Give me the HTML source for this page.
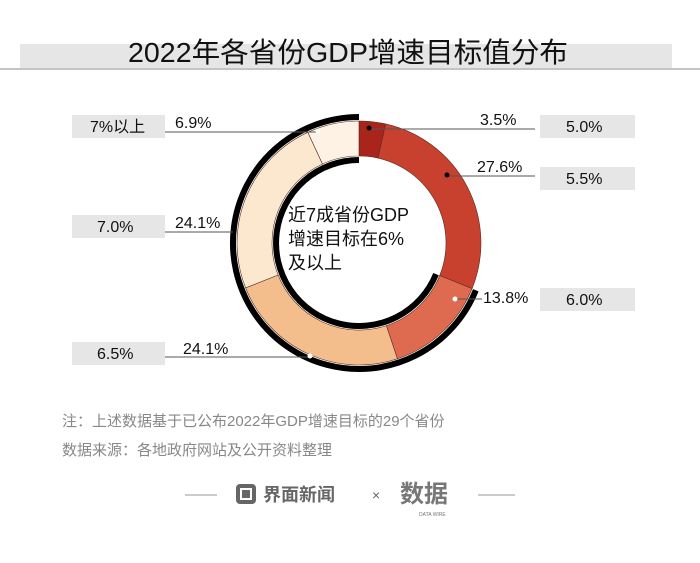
<!DOCTYPE html>
<html><head><meta charset="utf-8"><style>
body{margin:0;width:700px;height:558px;background:#fff;overflow:hidden;font-family:"Liberation Sans","Noto Sans CJK SC",sans-serif}
</style></head><body>
<svg width="700" height="558" xmlns="http://www.w3.org/2000/svg" font-family="Liberation Sans, Noto Sans CJK SC, sans-serif">
<rect x="20" y="44" width="652" height="24" fill="#e6e6e6"/>
<line x1="0" y1="69" x2="700" y2="69" stroke="#888" stroke-width="1"/>
<text x="128" y="62" font-size="28" fill="#111" textLength="440" lengthAdjust="spacingAndGlyphs">2022年各省份GDP增速目标值分布</text>
<g stroke="#5a2a20" stroke-width="0.6">
<path d="M359,121 A122,122 0 0 1 385.6,123.9 L378,158.1 A87,87 0 0 0 359,156Z" fill="#a9241b"/>
<path d="M385.6,123.9 A122,122 0 0 1 472.1,288.6 L439.7,275.5 A87,87 0 0 0 378,158.1Z" fill="#c8412f"/>
<path d="M472.1,288.6 A122,122 0 0 1 397.4,358.8 L386.4,325.6 A87,87 0 0 0 439.7,275.5Z" fill="#de6b4f"/>
<path d="M397.4,358.8 A122,122 0 0 1 245.6,287.9 L278.1,275 A87,87 0 0 0 386.4,325.6Z" fill="#f3bd8c"/>
<path d="M245.6,287.9 A122,122 0 0 1 307.8,132.3 L322.5,164 A87,87 0 0 0 278.1,275Z" fill="#fbe8cf"/>
<path d="M307.8,132.3 A122,122 0 0 1 359,121 L359,156 A87,87 0 0 0 322.5,164Z" fill="#fdf2e3"/>
</g>
<path d="M475.8,290.2 A126,126 0 1 1 359,117" fill="none" stroke="#000" stroke-width="6"/>
<path d="M436,274.1 A83,83 0 1 1 359,160" fill="none" stroke="#000" stroke-width="6"/>
<g fill="#111">
<text x="288" y="221" font-size="18">近7成省份GDP</text>
<text x="288" y="245" font-size="18">增速目标在6%</text>
<text x="288" y="269" font-size="18">及以上</text>
</g>
<g fill="#e6e6e6">
<rect x="540" y="115" width="95" height="23"/><rect x="540" y="167" width="95" height="23"/><rect x="540" y="288" width="95" height="23"/>
<rect x="72" y="115" width="93" height="23"/><rect x="72" y="215" width="93" height="23"/><rect x="72" y="342" width="93" height="23"/>
</g>
<g stroke="#555" stroke-width="1" fill="none">
<line x1="369" y1="129" x2="535" y2="129"/>
<line x1="447" y1="176" x2="535" y2="176"/>
<line x1="455" y1="299" x2="482" y2="299"/>
<line x1="165" y1="132" x2="318" y2="132"/>
<line x1="165" y1="232" x2="233" y2="232"/>
<line x1="165" y1="357" x2="310" y2="357"/>
</g>
<g fill="#000"><circle cx="369" cy="128" r="2.5"/><circle cx="447" cy="175" r="2.5"/></g>
<g fill="#fff"><circle cx="455" cy="299" r="2.5"/><circle cx="318" cy="131" r="2.5"/><circle cx="310" cy="356" r="2.5"/></g>
<g fill="#111" font-size="16">
<text x="480" y="125">3.5%</text><text x="477" y="172">27.6%</text><text x="483" y="303">13.8%</text>
<text x="566" y="132">5.0%</text><text x="566" y="184">5.5%</text><text x="566" y="305">6.0%</text>
<text x="90" y="132">7%以上</text><text x="97" y="232">7.0%</text><text x="97" y="359">6.5%</text>
<text x="175" y="128">6.9%</text><text x="175" y="228">24.1%</text><text x="183" y="354">24.1%</text>
</g>
<g fill="#888" font-size="15">
<text x="62" y="426">注：上述数据基于已公布2022年GDP增速目标的29个省份</text>
<text x="62" y="455">数据来源：各地政府网站及公开资料整理</text>
</g>
<line x1="185" y1="495" x2="217" y2="495" stroke="#999"/>
<line x1="478" y1="495" x2="515" y2="495" stroke="#999"/>
<rect x="236" y="484" width="20" height="20" rx="4" fill="#666"/>
<rect x="241" y="489" width="10" height="10" fill="none" stroke="#fff" stroke-width="2"/>
<text x="263" y="501" font-size="18" fill="#666" font-weight="bold">界面新闻</text>
<text x="372" y="500" font-size="14" fill="#666">×</text>
<text x="400" y="502" font-size="24" fill="#777" font-weight="bold">数据</text>
<text x="419" y="516" font-size="5" fill="#777">DATA WIRE</text>
</svg>
</body></html>
